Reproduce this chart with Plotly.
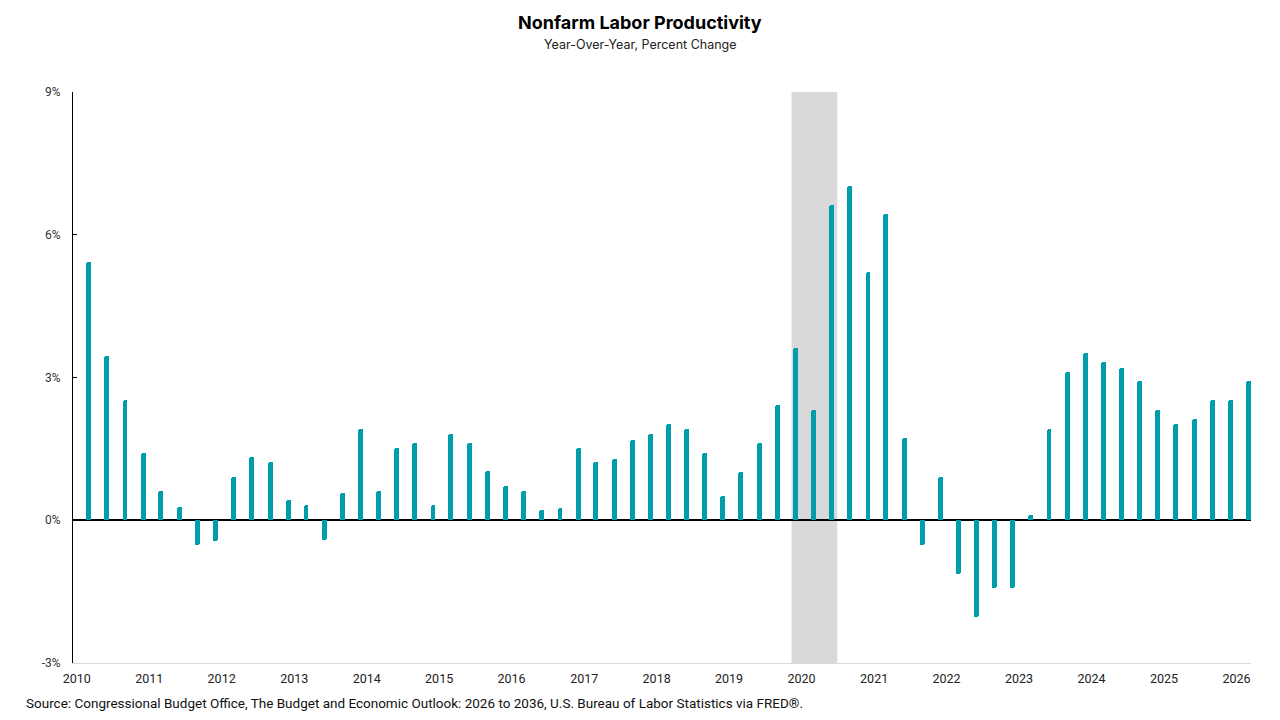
import plotly.graph_objects as go
import pandas as pd

# Quarterly observations 2010Q1 .. 2026Q1 (plotted at the last month of each quarter)
quarters = pd.date_range("2010-03-01", periods=65, freq="3MS")

productivity_yoy = [
    5.42, 3.45, 2.52, 1.41, 0.61, 0.27, -0.53, -0.44,
    0.90, 1.32, 1.22, 0.42, 0.32, -0.42, 0.57, 1.91,
    0.61, 1.51, 1.62, 0.32, 1.81, 1.62, 1.03, 0.71,
    0.61, 0.21, 0.25, 1.51, 1.22, 1.28, 1.68, 1.81,
    2.02, 1.91, 1.41, 0.50, 1.01, 1.62, 2.42, 3.61,
    2.31, 6.62, 7.02, 5.21, 6.43, 1.72, -0.53, 0.90,
    -1.13, -2.04, -1.43, -1.43, 0.10, 1.91, 3.11, 3.51,
    3.32, 3.21, 2.92, 2.31, 2.02, 2.12, 2.52, 2.52,
    2.92,
]

recession_start = "2019-11-12"
recession_end = "2020-06-29"

year_ticks = [f"{y}-01-01" for y in range(2010, 2027)]
year_labels = [str(y) for y in range(2010, 2027)]

y_ticks = [-3, 0, 3, 6, 9]
y_labels = ["-3%", "0%", "3%", "6%", "9%"]

fig = go.Figure()

fig.add_trace(go.Bar(
    x=quarters,
    y=productivity_yoy,
    width=1000 * 60 * 60 * 24 * 25,
    marker=dict(color="#019DAA", line=dict(width=0), cornerradius=2),
    hoverinfo="x+y",
))

fig.add_vrect(x0=recession_start, x1=recession_end, fillcolor="#D9D9D9",
              opacity=1, line_width=0, layer="below")

fig.update_layout(
    width=1280, height=720,
    margin=dict(l=73, r=29, t=92, b=57),
    paper_bgcolor="white", plot_bgcolor="white",
    showlegend=False,
    font=dict(family="Roboto, Arial, sans-serif", color="#333333", size=12),
    xaxis=dict(
        type="date",
        range=["2009-12-13", "2026-03-15"],
        tickvals=year_ticks, ticktext=year_labels,
        showgrid=False, zeroline=False,
        showline=True, linecolor="#D9D9D9", linewidth=1,
        ticks="", ticklabelstandoff=4,
        tickfont=dict(size=12.5, color="#222222"),
    ),
    yaxis=dict(
        range=[-3, 9],
        tickvals=y_ticks, ticktext=y_labels,
        showgrid=False,
        zeroline=True, zerolinecolor="#000000", zerolinewidth=1.5,
        showline=True, linecolor="#000000", linewidth=1,
        ticks="inside", ticklen=4, tickcolor="#000000", tickwidth=1,
        ticklabelstandoff=9,
        tickfont=dict(size=12, color="#333333"),
    ),
    bargap=0,
    annotations=[
        dict(text="<b>Nonfarm Labor Productivity</b>", xref="paper", yref="paper",
             x=0.5, y=1, xanchor="center", yanchor="middle", showarrow=False,
             font=dict(family="Inter, Roboto, sans-serif", size=18, color="#000000"),
             xshift=(640 - (73 + (1280 - 73 - 29) / 2)), yshift=92 - 22),
        dict(text="Year-Over-Year, Percent Change", xref="paper", yref="paper",
             x=0.5, y=1, xanchor="center", yanchor="middle", showarrow=False,
             font=dict(family="Inter, Roboto, sans-serif", size=12.5, color="#222222"),
             xshift=(640 - (73 + (1280 - 73 - 29) / 2)), yshift=92 - 44),
        dict(text="Source: Congressional Budget Office, The Budget and Economic Outlook: 2026 to 2036, U.S. Bureau of Labor Statistics via FRED®.",
             xref="paper", yref="paper", x=0, y=0, xanchor="left", yanchor="middle",
             showarrow=False, xshift=24 - 73, yshift=-(703 - 663),
             font=dict(family="Roboto, Arial, sans-serif", size=13.5, color="#111111")),
    ],
)

fig.write_html("out.html")
